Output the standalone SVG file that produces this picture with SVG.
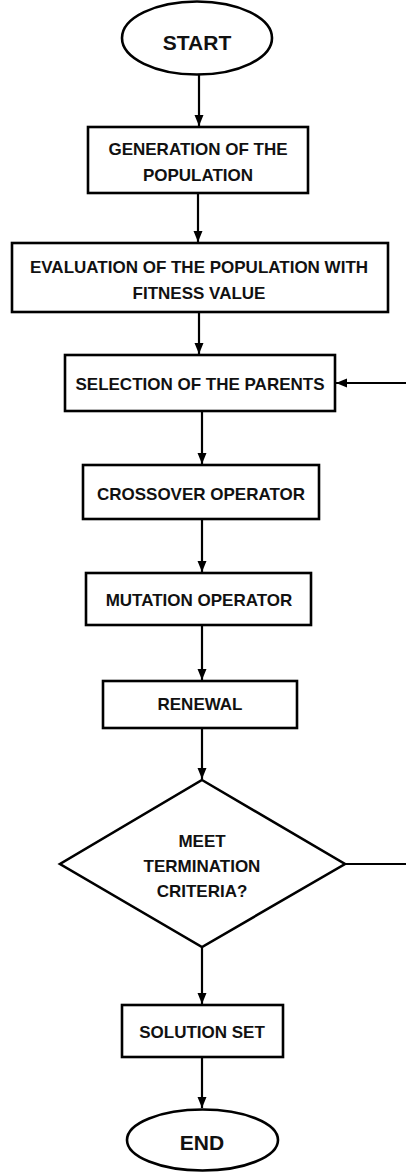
<svg xmlns="http://www.w3.org/2000/svg" width="406" height="1172" viewBox="0 0 406 1172">
<style>
.shape{fill:#fff;stroke:#000;stroke-width:2.6}
.t{font-family:"Liberation Sans",Arial,sans-serif;font-weight:bold;font-size:17px;fill:#111;text-anchor:middle}
.big{font-size:21px}
.conn{fill:none;stroke:#000;stroke-width:2.2}
</style>
<defs>
<marker id="ah" markerUnits="userSpaceOnUse" markerWidth="12" markerHeight="12" viewBox="0 0 12 12" refX="11" refY="6" orient="auto">
<path d="M0,1.5 L11,6 L0,10.5 Z" fill="#000"/>
</marker>
</defs>
<rect width="406" height="1172" fill="#fff"/>
<g id="connectors">
<line class="conn" x1="199" y1="75" x2="199" y2="126" marker-end="url(#ah)"/>
<line class="conn" x1="198" y1="193" x2="198" y2="242" marker-end="url(#ah)"/>
<line class="conn" x1="199" y1="312" x2="199" y2="354" marker-end="url(#ah)"/>
<line class="conn" x1="202" y1="411" x2="202" y2="464" marker-end="url(#ah)"/>
<line class="conn" x1="202" y1="519" x2="202" y2="572" marker-end="url(#ah)"/>
<line class="conn" x1="202" y1="625" x2="202" y2="680" marker-end="url(#ah)"/>
<line class="conn" x1="202" y1="728" x2="202" y2="779" marker-end="url(#ah)"/>
<line class="conn" x1="202" y1="947" x2="202" y2="1004" marker-end="url(#ah)"/>
<line class="conn" x1="202" y1="1057" x2="202" y2="1108" marker-end="url(#ah)"/>
<path class="conn" d="M345,864 L412,864 L412,383 L336,383" marker-end="url(#ah)"/>
</g>
<g id="start">
<ellipse class="shape" cx="197" cy="38" rx="75" ry="36.5"/>
<text class="t big" x="197" y="50">START</text>
</g>
<g id="generation">
<rect class="shape" x="88" y="127" width="220" height="66"/>
<text class="t" x="198" y="155">GENERATION OF THE</text>
<text class="t" x="198" y="181">POPULATION</text>
</g>
<g id="evaluation">
<rect class="shape" x="12" y="243" width="376" height="69"/>
<text class="t" x="199" y="273">EVALUATION OF THE POPULATION WITH</text>
<text class="t" x="199" y="299">FITNESS VALUE</text>
</g>
<g id="selection">
<rect class="shape" x="65" y="355" width="270" height="56"/>
<text class="t" x="200" y="390">SELECTION OF THE PARENTS</text>
</g>
<g id="crossover">
<rect class="shape" x="83" y="465" width="236" height="54"/>
<text class="t" x="201" y="500">CROSSOVER OPERATOR</text>
</g>
<g id="mutation">
<rect class="shape" x="86" y="573" width="225" height="52"/>
<text class="t" x="199" y="606">MUTATION OPERATOR</text>
</g>
<g id="renewal">
<rect class="shape" x="103" y="681" width="194" height="47"/>
<text class="t" x="200" y="710">RENEWAL</text>
</g>
<g id="decision">
<polygon class="shape" points="202,780 345,864 202,947 60,864"/>
<text class="t" x="202" y="847">MEET</text>
<text class="t" x="202" y="872">TERMINATION</text>
<text class="t" x="202" y="897">CRITERIA?</text>
</g>
<g id="solution">
<rect class="shape" x="122" y="1005" width="161" height="52"/>
<text class="t" x="202" y="1038">SOLUTION SET</text>
</g>
<g id="end">
<ellipse class="shape" cx="202.5" cy="1140" rx="75.5" ry="30.5"/>
<text class="t big" x="202" y="1150">END</text>
</g>
</svg>
